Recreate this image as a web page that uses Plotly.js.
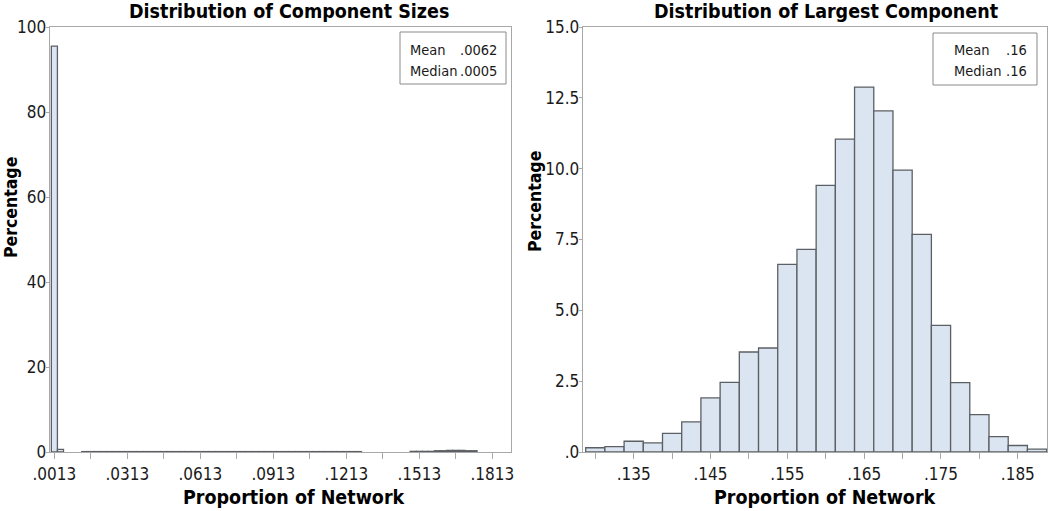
<!DOCTYPE html>
<html>
<head>
<meta charset="utf-8">
<script src="https://cdn.plot.ly/plotly-3.0.1.min.js"></script>
<style>
  html, body { margin: 0; padding: 0; background: #fff; }
  #chart { width: 1050px; height: 511px; }
</style>
</head>
<body>
<div id="chart"></div>
<script>
// left panel: all component sizes (bin centres, percentage)
const compX = [
  0.0013, 0.0038,
  0.0138, 0.0163, 0.0188, 0.0213, 0.0238, 0.0263, 0.0288, 0.0313, 0.0338, 0.0363,
  0.0388, 0.0413, 0.0438, 0.0463, 0.0488, 0.0513, 0.0538, 0.0563, 0.0588, 0.0613,
  0.0638, 0.0663, 0.0688, 0.0713, 0.0738, 0.0763, 0.0788, 0.0813, 0.0838, 0.0863,
  0.0888, 0.0913, 0.0938, 0.0963, 0.0988, 0.1013, 0.1038, 0.1063, 0.1088, 0.1113,
  0.1138, 0.1163, 0.1188, 0.1213, 0.1238, 0.1263,
  0.1488, 0.1513, 0.1538, 0.1563,
  0.1588, 0.1613, 0.1638, 0.1663, 0.1688, 0.1713, 0.1738
];
const compPct = [
  95.5, 0.6,
  0.1, 0.1, 0.1, 0.1, 0.1, 0.1, 0.1, 0.1, 0.1, 0.1,
  0.1, 0.1, 0.1, 0.1, 0.1, 0.1, 0.1, 0.1, 0.1, 0.1,
  0.1, 0.1, 0.1, 0.1, 0.1, 0.1, 0.1, 0.1, 0.1, 0.1,
  0.1, 0.1, 0.1, 0.1, 0.1, 0.1, 0.1, 0.1, 0.1, 0.1,
  0.1, 0.1, 0.1, 0.1, 0.1, 0.1,
  0.15, 0.15, 0.15, 0.15,
  0.3, 0.3, 0.35, 0.35, 0.35, 0.3, 0.3
];
const compTickVals = [0.0013, 0.0163, 0.0313, 0.0463, 0.0613, 0.0763, 0.0913, 0.1063, 0.1213, 0.1363, 0.1513, 0.1663, 0.1813];
const compTickText = [".0013", "", ".0313", "", ".0613", "", ".0913", "", ".1213", "", ".1513", "", ".1813"];
const compYTicks = [0, 20, 40, 60, 80, 100];

// right panel: largest component
const largestX = [
  0.1300, 0.1325, 0.1350, 0.1375, 0.1400, 0.1425, 0.1450, 0.1475, 0.1500, 0.1525,
  0.1550, 0.1575, 0.1600, 0.1625, 0.1650, 0.1675, 0.1700, 0.1725, 0.1750, 0.1775,
  0.1800, 0.1825, 0.1850, 0.1875
];
const largestPct = [
  0.15, 0.19, 0.38, 0.32, 0.66, 1.06, 1.91, 2.46, 3.53, 3.67,
  6.62, 7.15, 9.41, 11.04, 12.88, 12.04, 9.95, 7.68, 4.47, 2.45,
  1.32, 0.54, 0.23, 0.10
];
const largestTickVals = [0.130, 0.135, 0.140, 0.145, 0.150, 0.155, 0.160, 0.165, 0.170, 0.175, 0.180, 0.185];
const largestTickText = ["", ".135", "", ".145", "", ".155", "", ".165", "", ".175", "", ".185"];
const largestYTicks = [0, 2.5, 5, 7.5, 10, 12.5, 15];
const largestYText = [".0", "2.5", "5.0", "7.5", "10.0", "12.5", "15.0"];

const statLabels = ["Mean", "Median"];
const compStats = [".0062", ".0005"];
const largestStats = [".16", ".16"];

const W = 1050, PLOT_TOP = 27, PLOT_BOTTOM = 452;
const px = x => x / W;
const py = y => (PLOT_BOTTOM - y) / (PLOT_BOTTOM - PLOT_TOP);

const narrow = "Liberation Sans Narrow, DejaVu Sans Condensed, Arial Narrow, sans-serif";
const tickFont = { family: narrow, size: 17, color: "#1a1a1a" };
const titleFont = { family: narrow, size: 19.5, color: "#000", weight: "bold" };
const yTitleFont = { family: narrow, size: 17.5, color: "#000", weight: "bold" };
const statFont = { family: narrow, size: 14.5, color: "#1a1a1a" };
const frameColor = "#a8a8a8";

const barStyle = {
  type: "bar",
  width: 0.0025,
  marker: { color: "#dbe5f1", line: { color: "#5c5f63", width: 1.3 } },
  hoverinfo: "x+y"
};

const traces = [
  { ...barStyle, x: compX, y: compPct, xaxis: "x", yaxis: "y" },
  { ...barStyle, x: largestX, y: largestPct, xaxis: "x2", yaxis: "y2" }
];

const axisBase = {
  showline: true,
  linecolor: frameColor,
  linewidth: 1.3,
  mirror: true,
  showgrid: false,
  zeroline: false,
  ticks: "outside",
  tickcolor: frameColor,
  tickfont: tickFont,
  fixedrange: true
};

const annotations = [];
function addText(text, x, y, font, opts) {
  annotations.push({
    text: text, x: px(x), y: py(y), xref: "paper", yref: "paper",
    showarrow: false, font: font, xanchor: "center", yanchor: "middle", ...opts
  });
}

addText("Distribution of Component Sizes", 289, 12, titleFont);
addText("Distribution of Largest Component", 826, 12, titleFont);
addText("Proportion of Network", 294, 498, titleFont);
addText("Proportion of Network", 825, 498, titleFont);
addText("Percentage", 11, 208, yTitleFont, { textangle: -90 });
addText("Percentage", 535, 202, yTitleFont, { textangle: -90 });

statLabels.forEach((label, i) => {
  const y = 50 + i * 21;
  addText(label, 408, y, statFont, { xanchor: "left" });
  addText(compStats[i], 458, y, statFont, { xanchor: "left" });
  addText(label, 952, y, statFont, { xanchor: "left" });
  addText(largestStats[i], 1004, y, statFont, { xanchor: "left" });
});

const shapes = [
  { type: "rect", xref: "paper", yref: "paper", x0: px(400), x1: px(506), y0: py(32), y1: py(84),
    line: { color: "#8a8a8a", width: 1 }, fillcolor: "rgba(0,0,0,0)" },
  { type: "rect", xref: "paper", yref: "paper", x0: px(933), x1: px(1037), y0: py(33), y1: py(85),
    line: { color: "#8a8a8a", width: 1 }, fillcolor: "rgba(0,0,0,0)" }
];

const layout = {
  width: 1050,
  height: 511,
  margin: { l: 0, r: 0, t: PLOT_TOP, b: 511 - PLOT_BOTTOM },
  paper_bgcolor: "#fff",
  plot_bgcolor: "#fff",
  showlegend: false,
  bargap: 0,
  xaxis: {
    ...axisBase, domain: [px(50), px(511)], anchor: "y",
    range: [-0.0005, 0.1890], tickvals: compTickVals, ticktext: compTickText, ticklen: 6
  },
  yaxis: {
    ...axisBase, domain: [0, 1], anchor: "x",
    range: [0, 100], tickvals: compYTicks, ticklen: 3, ticklabelstandoff: -4
  },
  xaxis2: {
    ...axisBase, domain: [px(583), px(1047)], anchor: "y2",
    range: [0.1284, 0.1888], tickvals: largestTickVals, ticktext: largestTickText, ticklen: 6
  },
  yaxis2: {
    ...axisBase, domain: [0, 1], anchor: "x2",
    range: [0, 15], tickvals: largestYTicks, ticktext: largestYText, ticklen: 3, ticklabelstandoff: -4
  },
  annotations: annotations,
  shapes: shapes
};

Plotly.newPlot("chart", traces, layout, { displayModeBar: false, staticPlot: true });
</script>
</body>
</html>
